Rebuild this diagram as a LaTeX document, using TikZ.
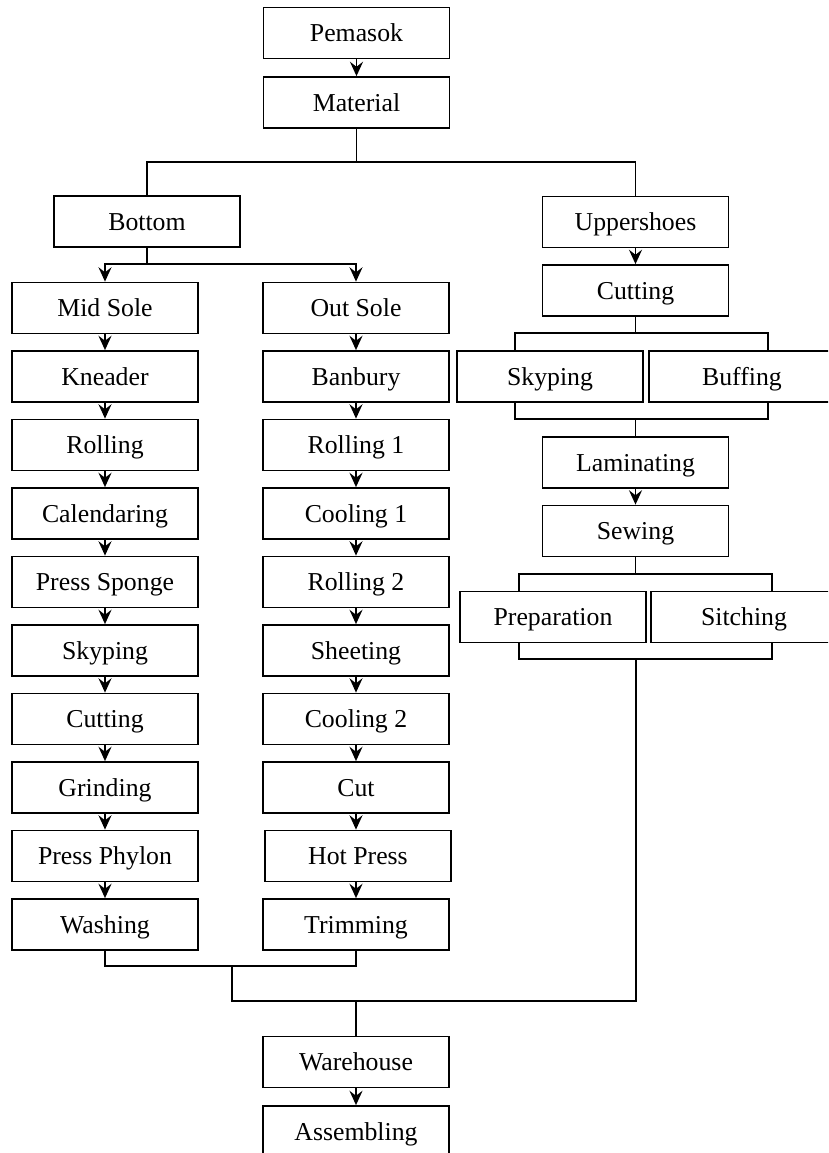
\documentclass[tikz,border=0pt]{standalone}
\usepackage{fontspec}
\setmainfont{Liberation Serif}
\usetikzlibrary{arrows.meta}

\begin{document}
\begin{tikzpicture}[
  x=0.03cm, y=-0.03cm,
  every node/.style={inner sep=0pt},
  box/.style={draw, line width=1.5pt, minimum width=5.58cm, minimum height=1.53cm,
    text height=14.6pt, text depth=0pt, font=\fontsize{22}{26}\selectfont},
  edge/.style={draw, line width=1.5pt},
  arrow/.style={draw, line width=1.5pt, -{Stealth[length=4.3mm, width=3.9mm, inset=1.5mm]}}]

  % ---- the page, cut at the right and bottom as in the paper --------------
  \useasboundingbox (0,0) rectangle (828,1153);
  \clip (0,0) rectangle (828,1153);

  % ---- supplier and material ----------------------------------------------
  \node[box] (supplier) at (356.5,33) {Pemasok};
  \node[box] (material) at (356.5,102.5) {Material};
  \draw[arrow] (supplier) -- (material);

  \node[box] (bottom) at (147,221.5) {Bottom};
  \node[box] (upper) at (635.5,222) {Uppershoes};

  \coordinate (matsplit) at (356.5,162);
  \draw[edge] (material) -- (matsplit);
  \draw[edge] (bottom.north) |- (matsplit);
  \draw[edge] (upper.north) |- (matsplit);

  % ---- mid sole line --------------------------------------------------------
  \node[box] (msole)   at (105,308)   {Mid Sole};
  \node[box] (knead)   at (105,376.5) {Kneader};
  \node[box] (roll)    at (105,445)   {Rolling};
  \node[box] (calend)  at (105,513.5) {Calendaring};
  \node[box] (psponge) at (105,582)   {Press Sponge};
  \node[box] (mskyp)   at (105,650.5) {Skyping};
  \node[box] (mcut)    at (105,719)   {Cutting};
  \node[box] (grind)   at (105,787.5) {Grinding};
  \node[box] (pphylon) at (105,856)   {Press Phylon};
  \node[box] (wash)    at (105,924.5) {Washing};

  \draw[arrow] (msole) -- (knead);
  \draw[arrow] (knead) -- (roll);
  \draw[arrow] (roll) -- (calend);
  \draw[arrow] (calend) -- (psponge);
  \draw[arrow] (psponge) -- (mskyp);
  \draw[arrow] (mskyp) -- (mcut);
  \draw[arrow] (mcut) -- (grind);
  \draw[arrow] (grind) -- (pphylon);
  \draw[arrow] (pphylon) -- (wash);

  % ---- out sole line --------------------------------------------------------
  \node[box] (osole)  at (356,308)   {Out Sole};
  \node[box] (banb)   at (356,376.5) {Banbury};
  \node[box] (roll1)  at (356,445)   {Rolling 1};
  \node[box] (cool1)  at (356,513.5) {Cooling 1};
  \node[box] (roll2)  at (356,582)   {Rolling 2};
  \node[box] (sheet)  at (356,650.5) {Sheeting};
  \node[box] (cool2)  at (356,719)   {Cooling 2};
  \node[box] (ocut)   at (356,787.5) {Cut};
  \node[box] (hpress) at (358,856)   {Hot Press};
  \node[box] (trim)   at (356,924.5) {Trimming};

  \draw[arrow] (osole) -- (banb);
  \draw[arrow] (banb) -- (roll1);
  \draw[arrow] (roll1) -- (cool1);
  \draw[arrow] (cool1) -- (roll2);
  \draw[arrow] (roll2) -- (sheet);
  \draw[arrow] (sheet) -- (cool2);
  \draw[arrow] (cool2) -- (ocut);
  \draw[arrow] (ocut) -- (hpress.north -| ocut);
  \draw[arrow] (hpress.south -| trim) -- (trim);

  \coordinate (botsplit) at (147,264);
  \draw[edge] (bottom) -- (botsplit);
  \draw[arrow] (botsplit) -| (msole);
  \draw[arrow] (botsplit) -| (osole);

  % ---- upper shoes line -----------------------------------------------------
  \node[box] (ucut)  at (635.5,290.5) {Cutting};
  \node[box] (uskyp) at (550,376.5)   {Skyping};
  \node[box] (buff)  at (742,376.5)   {Buffing};
  \node[box] (lamin) at (635.5,462.5) {Laminating};
  \node[box] (sew)   at (635.5,531)   {Sewing};
  \node[box] (prep)  at (553,617)     {Preparation};
  \node[box] (stitch) at (744,617)    {Sitching};

  \draw[arrow] (upper) -- (ucut);

  \coordinate (cutL) at (515,333);
  \coordinate (cutR) at (768,333);
  \draw[edge] (ucut) -- (ucut |- cutL);
  \draw[edge] (cutL |- uskyp.north) -- (cutL) -- (cutR) -- (cutR |- buff.north);

  \coordinate (skyL) at (515,419);
  \coordinate (skyR) at (768,419);
  \draw[edge] (skyL |- uskyp.south) -- (skyL) -- (skyR) -- (skyR |- buff.south);
  \draw[edge] (lamin |- skyL) -- (lamin);

  \draw[arrow] (lamin) -- (sew);

  \coordinate (sewL) at (519,574);
  \coordinate (sewR) at (772,574);
  \draw[edge] (sew) -- (sew |- sewL);
  \draw[edge] (sewL |- prep.north) -- (sewL) -- (sewR) -- (sewR |- stitch.north);

  \coordinate (prepL) at (519,659);
  \coordinate (prepR) at (772,659);
  \coordinate (uppmerge) at (636,659);
  \draw[edge] (prepL |- prep.south) -- (prepL) -- (prepR) -- (prepR |- stitch.south);

  % ---- joining the three lines ---------------------------------------------
  \coordinate (solemerge) at (232,966);
  \coordinate (base) at (232,1001);
  \draw[edge] (wash.south) |- (solemerge);
  \draw[edge] (trim.south) |- (solemerge);
  \draw[edge] (solemerge) -- (base) -| (uppmerge);

  \node[box] (ware)  at (356,1062) {Warehouse};
  \node[box] (assem) at (356,1131.5) {Assembling};
  \draw[edge] (ware.north |- base) -- (ware);
  \draw[arrow] (ware) -- (assem);
\end{tikzpicture}
\end{document}
